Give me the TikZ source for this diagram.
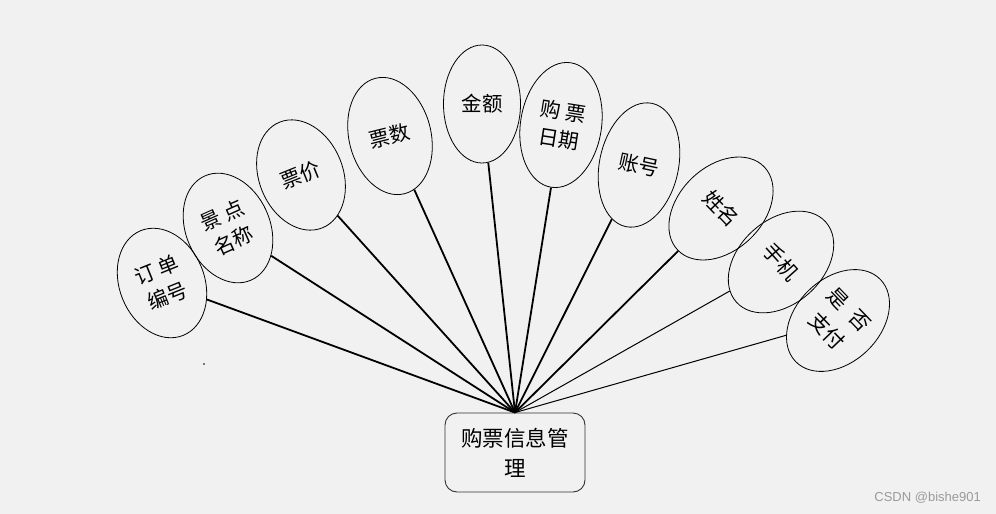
\documentclass[tikz,border=0pt]{standalone}
\usepackage{fontspec}
\newfontfamily\cjk{Noto Sans CJK SC}
\usetikzlibrary{shapes.geometric}
\definecolor{bgc}{HTML}{F1F1F1}
\definecolor{wm}{HTML}{9A9A9A}
\begin{document}
\begin{tikzpicture}[x=1pt,y=1pt,
  attr/.style={ellipse, draw=black, line width=0.8pt, inner sep=0pt, align=center,
    font=\cjk\fontsize{20.5}{28}\selectfont},
  hubbox/.style={draw=black!80, line width=0.9pt, rounded corners=12pt, inner sep=0pt,
    minimum width=140pt, minimum height=79pt, align=center,
    font=\cjk\fontsize{21.5}{30}\selectfont},
  link/.style={line width=1.8pt, black},
  thinlink/.style={line width=1pt, black}]
\fill[bgc] (0,0) rectangle (996,-514);
\useasboundingbox (0,0) rectangle (996,-514);

\node[hubbox] (hub) at (515,-452.5) {购票信息管\\理};

\node[attr, minimum width=85pt, minimum height=113pt, rotate=22] (e1) at (162,-283) {订 单\\编号};
\node[attr, minimum width=84pt, minimum height=114pt, rotate=24] (e2) at (228,-228) {景 点\\名称};
\node[attr, minimum width=84pt, minimum height=114pt, rotate=22] (e3) at (301,-175) {票价};
\node[attr, minimum width=82pt, minimum height=119pt, rotate=14] (e4) at (390,-136) {票数};
\node[attr, minimum width=77pt, minimum height=118pt] (e5) at (482,-104) {金额};
\node[attr, minimum width=81pt, minimum height=126pt, rotate=-9] (e6) at (561,-125) {购 票\\日期};
\node[attr, minimum width=79pt, minimum height=126pt, rotate=-12] (e7) at (639,-165) {账号};
\node[attr, minimum width=84pt, minimum height=120pt, rotate=-46] (e8) at (721,-208.5) {姓名};
\node[attr, minimum width=84pt, minimum height=120pt, rotate=-48] (e9) at (781,-262) {手机};
\node[attr, minimum width=84pt, minimum height=118pt, rotate=-46,
  font=\cjk\fontsize{20.5}{31}\selectfont] (e10) at (838,-320.5) {是\hspace{6pt} 否\\支付};

\draw[link] (e1) -- (hub.north);
\draw[link] (e2) -- (hub.north);
\draw[link] (e3) -- (hub.north);
\draw[link] (e4) -- (hub.north);
\draw[link] (e5) -- (hub.north);
\draw[link] (e6) -- (hub.north);
\draw[link] (e7) -- (hub.north);
\draw[link] (e8) -- (hub.north);
\draw[thinlink] (e9) -- (hub.north);
\draw[thinlink] (e10) -- (hub.north);

\fill[black] (204,-364) circle (0.9pt);
\node[font=\fontspec{Liberation Sans}\fontsize{13}{15}\selectfont, text=wm, anchor=east, inner sep=0pt] (wmk) at (981,-498) {CSDN @bishe901};
\end{tikzpicture}
\end{document}
